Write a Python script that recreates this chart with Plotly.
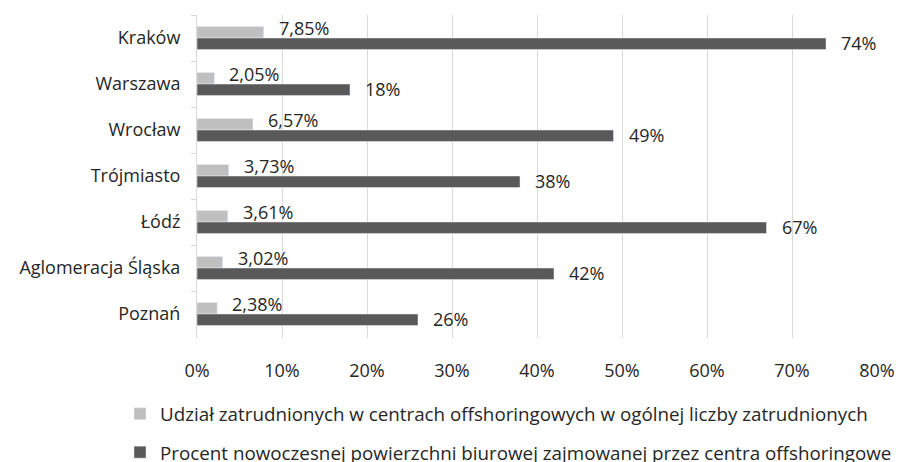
import plotly.graph_objects as go

categories = ["Kraków", "Warszawa", "Wrocław", "Trójmiasto", "Łódź", "Aglomeracja Śląska", "Poznań"]
share_employed = [7.85, 2.05, 6.57, 3.73, 3.61, 3.02, 2.38]
share_employed_labels = ["7,85%", "2,05%", "6,57%", "3,73%", "3,61%", "3,02%", "2,38%"]
office_space = [74, 18, 49, 38, 67, 42, 26]
office_space_labels = ["74%", "18%", "49%", "38%", "67%", "42%", "26%"]
series_names = [
    "Udział zatrudnionych w centrach offshoringowych w ogólnej liczby zatrudnionych",
    "Procent nowoczesnej powierzchni biurowej zajmowanej przez centra offshoringowe",
]
x_ticks = [0, 10, 20, 30, 40, 50, 60, 70, 80]
x_tick_labels = [f"{v}%" for v in x_ticks]

FONT = "Open Sans, DejaVu Sans, sans-serif"
TXT = "#262626"

W, H = 898, 462
ML, MR, MT, MB = 197, 21, 15, 124
PW, PH = W - ML - MR, H - MT - MB

fig = go.Figure()
fig.add_trace(go.Bar(
    y=categories, x=share_employed, orientation="h", name=series_names[0],
    marker=dict(color="#BFBFBF"), legendgroup="a",
))
fig.add_trace(go.Bar(
    y=categories, x=office_space, orientation="h", name=series_names[1],
    marker=dict(color="#595959"), legendgroup="b",
))

for c, v, t in zip(categories, share_employed, share_employed_labels):
    fig.add_annotation(x=v, y=c, text=t, showarrow=False, xanchor="left",
                       xshift=13, yshift=10, font=dict(family=FONT, size=18, color=TXT))
for c, v, t in zip(categories, office_space, office_space_labels):
    fig.add_annotation(x=v, y=c, text=t, showarrow=False, xanchor="left",
                       xshift=13, yshift=-5, font=dict(family=FONT, size=18, color=TXT))

fig.update_layout(
    width=W, height=H,
    margin=dict(l=ML, r=MR, t=MT, b=MB, autoexpand=False),
    barmode="group", bargap=0.5, bargroupgap=0,
    plot_bgcolor="white", paper_bgcolor="white",
    font=dict(family=FONT, size=18, color=TXT),
    showlegend=True,
    legend=dict(
        orientation="v",
        x=(120 - ML) / PW, y=(MT + PH - 395) / PH, xanchor="left", yanchor="top",
        font=dict(family=FONT, size=18.8, color=TXT),
        tracegroupgap=11, itemwidth=30, traceorder="grouped",
        bgcolor="rgba(0,0,0,0)",
    ),
    xaxis=dict(
        range=[0, 80], tickvals=x_ticks, ticktext=x_tick_labels,
        showgrid=True, gridcolor="#D9D9D9", gridwidth=1,
        zeroline=False, showline=False, ticks="outside", ticklen=16, tickcolor="rgba(0,0,0,0)",
        tickfont=dict(family=FONT, size=18, color=TXT), automargin=False,
    ),
    yaxis=dict(
        autorange="reversed", showline=True, linecolor="#D9D9D9", linewidth=1,
        ticks="outside", tickson="boundaries", ticklen=5, tickcolor="#D9D9D9",
        showgrid=False, automargin=False, ticklabelstandoff=12,
        tickfont=dict(family=FONT, size=18, color=TXT),
    ),
)

fig.write_html("out.html", config={"displayModeBar": False},
               post_script="document.body.style.margin='0px';")
